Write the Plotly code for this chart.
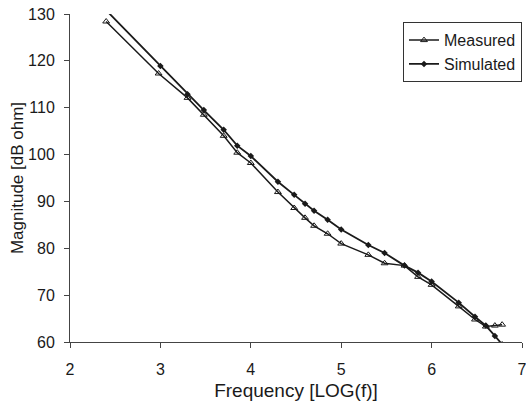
import plotly.graph_objects as go

# log10 of frequency (Hz) and impedance magnitude (dB ohm)
meas_logf = [2.40, 2.98, 3.30, 3.48, 3.70, 3.85, 4.00, 4.30, 4.48, 4.60, 4.70, 4.85,
             5.00, 5.30, 5.48, 5.70, 5.85, 6.00, 6.30, 6.48, 6.60, 6.70, 6.78]
meas_mag = [128.4, 117.3, 112.1, 108.5, 104.0, 100.4, 98.2, 92.0, 88.6, 86.5, 84.8, 83.1,
            81.0, 78.6, 76.8, 76.3, 73.9, 72.2, 67.6, 64.8, 63.3, 63.5, 63.7]

sim_logf = [2.40, 3.00, 3.30, 3.48, 3.70, 3.85, 4.00, 4.30, 4.48, 4.60, 4.70, 4.85,
            5.00, 5.30, 5.48, 5.70, 5.85, 6.00, 6.30, 6.48, 6.60, 6.70, 6.78]
sim_mag = [130.8, 118.9, 112.9, 109.5, 105.3, 101.9, 99.7, 94.2, 91.4, 89.5, 88.0, 86.1,
           84.0, 80.7, 79.0, 76.3, 74.8, 72.9, 68.4, 65.4, 63.5, 61.3, 59.5]

x_ticks = [2, 3, 4, 5, 6, 7]
y_ticks = [60, 70, 80, 90, 100, 110, 120, 130]

FONT = "Liberation Sans, Arial, sans-serif"
INK = "#1a1a1a"
AXIS = "#444444"

fig = go.Figure()
fig.add_trace(go.Scatter(
    x=meas_logf, y=meas_mag, name="Measured", mode="lines+markers",
    line=dict(color=INK, width=1.5),
    marker=dict(symbol="triangle-up-open", size=6, color=INK, line=dict(width=1)),
    cliponaxis=True,
))
fig.add_trace(go.Scatter(
    x=sim_logf, y=sim_mag, name="Simulated", mode="lines+markers",
    line=dict(color=INK, width=1.8),
    marker=dict(symbol="diamond", size=5, color=INK),
    cliponaxis=True,
))

fig.update_layout(
    width=526, height=404,
    margin=dict(l=70, r=4, t=14, b=62, autoexpand=False),
    paper_bgcolor="white", plot_bgcolor="white",
    font=dict(family=FONT, size=16, color=INK),
    showlegend=True,
    legend=dict(
        x=1.0, y=0.975, xanchor="right", yanchor="top",
        bordercolor="#333333", borderwidth=1, bgcolor="white",
        font=dict(size=16), itemwidth=30,
        tracegroupgap=0,
    ),
    xaxis=dict(
        range=[2, 7], tickvals=x_ticks, ticktext=[str(v) for v in x_ticks],
        showgrid=False, zeroline=False, showline=True, linecolor=AXIS, linewidth=1,
        ticks="outside", ticklen=5, tickcolor=AXIS, automargin=False,
        ticklabelstandoff=8, ticklabeloverflow="allow",
        title=dict(text="Frequency [LOG(f)]", standoff=6, font=dict(size=19)),
        tickfont=dict(size=16),
    ),
    yaxis=dict(
        range=[60, 130], tickvals=y_ticks, ticktext=[str(v) for v in y_ticks],
        showgrid=False, zeroline=False, showline=True, linecolor=AXIS, linewidth=1,
        ticks="outside", ticklen=5, tickcolor=AXIS, automargin=False,
        ticklabelstandoff=6, ticklabeloverflow="allow",
        title=dict(text="Magnitude [dB ohm]", standoff=0, font=dict(size=17)),
        tickfont=dict(size=16),
    ),
)

fig.write_html("out.html")
